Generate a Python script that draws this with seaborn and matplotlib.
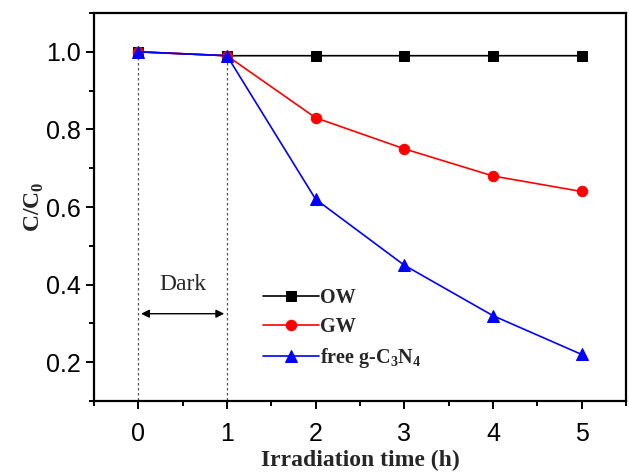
import pandas as pd
import matplotlib.pyplot as plt
import seaborn as sns
from matplotlib.ticker import MultipleLocator

# Data
time_h = [0, 1, 2, 3, 4, 5]
ow = [1.00, 0.99, 0.99, 0.99, 0.99, 0.99]
gw = [1.00, 0.99, 0.83, 0.75, 0.68, 0.64]
free_gcn = [1.00, 0.99, 0.62, 0.45, 0.32, 0.22]

labels = ['OW', 'GW', r'free g-C$_\mathbf{3}$N$_\mathbf{4}$']
colors = ['black', 'red', 'blue']
markers = ['s', 'o', '^']
msizes = [6.5, 7.5, 8.5]

df = pd.DataFrame({'time': time_h * 3,
                   'ratio': ow + gw + free_gcn,
                   'sample': [labels[0]] * 6 + [labels[1]] * 6 + [labels[2]] * 6})

sns.set_style('ticks')
plt.rcParams['font.family'] = ['Liberation Sans', 'DejaVu Sans']
plt.rcParams['mathtext.fontset'] = 'custom'
plt.rcParams['mathtext.rm'] = 'Liberation Serif:bold'
plt.rcParams['mathtext.bf'] = 'Liberation Serif:bold'

fig = plt.figure(figsize=(6.29, 4.72), dpi=100)
ax = fig.add_axes([0.1494, 0.1504, 0.8458, 0.822])

# dashed guides for the dark period
for xv in [0, 1]:
    ax.plot([xv, xv], [0.0, 1.0], ls=(0, (2, 2)), color='#555555', lw=0.9, zorder=1)

for lab, col, mk, ms in zip(labels, colors, markers, msizes):
    sub = df[df['sample'] == lab]
    sns.lineplot(data=sub, x='time', y='ratio', color=col, marker=mk,
                 markersize=ms, markeredgecolor=col, lw=1.2, label=lab, ax=ax, zorder=3)

ax.annotate('', xy=(0, 0.325), xytext=(1, 0.325),
            arrowprops=dict(arrowstyle='<|-|>', color='black', lw=1.0, mutation_scale=12))
ax.text(0.5, 0.40, 'Dark', ha='center', va='center', fontsize=17,
        family='Liberation Serif')

ax.set_xlim(-0.5, 5.5)
ax.set_ylim(0.1, 1.1)
ax.xaxis.set_major_locator(MultipleLocator(1))
ax.xaxis.set_minor_locator(MultipleLocator(0.5))
ax.yaxis.set_major_locator(MultipleLocator(0.2))
ax.yaxis.set_minor_locator(MultipleLocator(0.1))
ax.tick_params(which='both', direction='out', width=1.4, labelsize=18, colors='black')
ax.tick_params(which='major', length=6)
ax.tick_params(which='minor', length=3.5)
ax.tick_params(axis='x', which='major', pad=9)
ax.set_yticks([0.2, 0.4, 0.6, 0.8, 1.0])
ax.set_yticklabels(['0.2', '0.4', '0.6', '0.8', '1.0'])
for sp in ax.spines.values():
    sp.set_linewidth(1.6)
    sp.set_visible(True)
    sp.set_color('black')

ax.set_xlabel('Irradiation time (h)', fontsize=17, fontweight='bold', family='Liberation Serif',
              labelpad=3)
ax.set_ylabel(r'C/C$_\mathbf{0}$', fontsize=17, fontweight='bold', family='Liberation Serif',
              labelpad=0)

leg = ax.legend(loc='center left', bbox_to_anchor=(0.283, 0.1856), frameon=False,
                prop={'family': 'Liberation Serif', 'weight': 'bold', 'size': 14.5},
                handlelength=2.8, handletextpad=0.05, labelspacing=0.45)

fig.savefig('out.png', dpi=100)
